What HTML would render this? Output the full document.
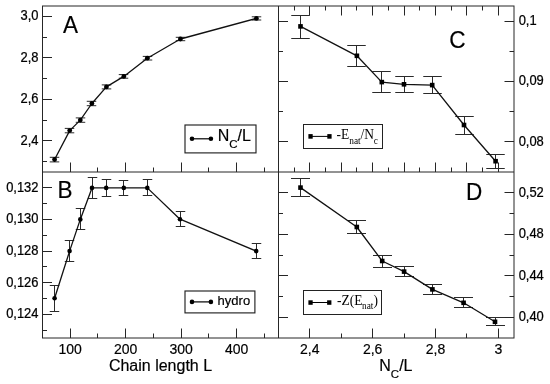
<!DOCTYPE html>
<html><head><meta charset="utf-8"><style>
html,body{margin:0;padding:0;background:#fff;}
body{width:550px;height:384px;overflow:hidden;}
svg{display:block;filter:grayscale(1);}
text{fill:#000;stroke:#000;stroke-width:0.18px;}
text[font-family="Liberation Serif"]{stroke-width:0;}
</style></head><body>
<svg width="550" height="384" viewBox="0 0 550 384">
<rect width="550" height="384" fill="#fff"/>
<rect x="42.5" y="6.0" width="471.50" height="332.00" fill="none" stroke="#262626" stroke-width="1.0"/>
<line x1="278.50" y1="6.00" x2="278.50" y2="338.00" stroke="#262626" stroke-width="1.0"/>
<line x1="42.50" y1="172.00" x2="514.00" y2="172.00" stroke="#262626" stroke-width="1.0"/>
<line x1="42.50" y1="16.50" x2="52.00" y2="16.50" stroke="#262626" stroke-width="1.0"/>
<text transform="translate(38.5,20.37) scale(0.93,1)" font-size="13.9" style="stroke-width:0.25px" text-anchor="end" font-family="Liberation Sans">3,0</text>
<line x1="42.50" y1="37.50" x2="47.00" y2="37.50" stroke="#262626" stroke-width="1.0"/>
<line x1="42.50" y1="57.50" x2="52.00" y2="57.50" stroke="#262626" stroke-width="1.0"/>
<text transform="translate(38.5,61.88) scale(0.93,1)" font-size="13.9" style="stroke-width:0.25px" text-anchor="end" font-family="Liberation Sans">2,8</text>
<line x1="42.50" y1="78.50" x2="47.00" y2="78.50" stroke="#262626" stroke-width="1.0"/>
<line x1="42.50" y1="99.50" x2="52.00" y2="99.50" stroke="#262626" stroke-width="1.0"/>
<text transform="translate(38.5,103.37) scale(0.93,1)" font-size="13.9" style="stroke-width:0.25px" text-anchor="end" font-family="Liberation Sans">2,6</text>
<line x1="42.50" y1="120.50" x2="47.00" y2="120.50" stroke="#262626" stroke-width="1.0"/>
<line x1="42.50" y1="140.50" x2="52.00" y2="140.50" stroke="#262626" stroke-width="1.0"/>
<text transform="translate(38.5,144.87) scale(0.93,1)" font-size="13.9" style="stroke-width:0.25px" text-anchor="end" font-family="Liberation Sans">2,4</text>
<line x1="42.50" y1="161.50" x2="47.00" y2="161.50" stroke="#262626" stroke-width="1.0"/>
<line x1="70.50" y1="172.00" x2="70.50" y2="162.50" stroke="#262626" stroke-width="1.0"/>
<line x1="97.50" y1="172.00" x2="97.50" y2="167.50" stroke="#262626" stroke-width="1.0"/>
<line x1="125.50" y1="172.00" x2="125.50" y2="162.50" stroke="#262626" stroke-width="1.0"/>
<line x1="153.50" y1="172.00" x2="153.50" y2="167.50" stroke="#262626" stroke-width="1.0"/>
<line x1="181.50" y1="172.00" x2="181.50" y2="162.50" stroke="#262626" stroke-width="1.0"/>
<line x1="208.50" y1="172.00" x2="208.50" y2="167.50" stroke="#262626" stroke-width="1.0"/>
<line x1="236.50" y1="172.00" x2="236.50" y2="162.50" stroke="#262626" stroke-width="1.0"/>
<line x1="264.50" y1="172.00" x2="264.50" y2="167.50" stroke="#262626" stroke-width="1.0"/>
<line x1="42.50" y1="187.50" x2="52.00" y2="187.50" stroke="#262626" stroke-width="1.0"/>
<text transform="translate(38.5,191.81) scale(0.93,1)" font-size="13.9" style="stroke-width:0.25px" text-anchor="end" font-family="Liberation Sans">0,132</text>
<line x1="42.50" y1="203.50" x2="47.00" y2="203.50" stroke="#262626" stroke-width="1.0"/>
<line x1="42.50" y1="219.50" x2="52.00" y2="219.50" stroke="#262626" stroke-width="1.0"/>
<text transform="translate(38.5,223.43) scale(0.93,1)" font-size="13.9" style="stroke-width:0.25px" text-anchor="end" font-family="Liberation Sans">0,130</text>
<line x1="42.50" y1="235.50" x2="47.00" y2="235.50" stroke="#262626" stroke-width="1.0"/>
<line x1="42.50" y1="251.50" x2="52.00" y2="251.50" stroke="#262626" stroke-width="1.0"/>
<text transform="translate(38.5,255.05) scale(0.93,1)" font-size="13.9" style="stroke-width:0.25px" text-anchor="end" font-family="Liberation Sans">0,128</text>
<line x1="42.50" y1="266.50" x2="47.00" y2="266.50" stroke="#262626" stroke-width="1.0"/>
<line x1="42.50" y1="282.50" x2="52.00" y2="282.50" stroke="#262626" stroke-width="1.0"/>
<text transform="translate(38.5,286.67) scale(0.93,1)" font-size="13.9" style="stroke-width:0.25px" text-anchor="end" font-family="Liberation Sans">0,126</text>
<line x1="42.50" y1="298.50" x2="47.00" y2="298.50" stroke="#262626" stroke-width="1.0"/>
<line x1="42.50" y1="314.50" x2="52.00" y2="314.50" stroke="#262626" stroke-width="1.0"/>
<text transform="translate(38.5,318.29) scale(0.93,1)" font-size="13.9" style="stroke-width:0.25px" text-anchor="end" font-family="Liberation Sans">0,124</text>
<line x1="42.50" y1="330.50" x2="47.00" y2="330.50" stroke="#262626" stroke-width="1.0"/>
<line x1="70.50" y1="338.00" x2="70.50" y2="328.50" stroke="#262626" stroke-width="1.0"/>
<text x="70.24" y="353.60" font-size="14" text-anchor="middle" font-family="Liberation Sans" >100</text>
<line x1="97.50" y1="338.00" x2="97.50" y2="333.50" stroke="#262626" stroke-width="1.0"/>
<line x1="125.50" y1="338.00" x2="125.50" y2="328.50" stroke="#262626" stroke-width="1.0"/>
<text x="125.72" y="353.60" font-size="14" text-anchor="middle" font-family="Liberation Sans" >200</text>
<line x1="153.50" y1="338.00" x2="153.50" y2="333.50" stroke="#262626" stroke-width="1.0"/>
<line x1="181.50" y1="338.00" x2="181.50" y2="328.50" stroke="#262626" stroke-width="1.0"/>
<text x="181.21" y="353.60" font-size="14" text-anchor="middle" font-family="Liberation Sans" >300</text>
<line x1="208.50" y1="338.00" x2="208.50" y2="333.50" stroke="#262626" stroke-width="1.0"/>
<line x1="236.50" y1="338.00" x2="236.50" y2="328.50" stroke="#262626" stroke-width="1.0"/>
<text x="236.69" y="353.60" font-size="14" text-anchor="middle" font-family="Liberation Sans" >400</text>
<line x1="264.50" y1="338.00" x2="264.50" y2="333.50" stroke="#262626" stroke-width="1.0"/>
<line x1="294.50" y1="6.00" x2="294.50" y2="10.50" stroke="#262626" stroke-width="1.0"/>
<line x1="294.50" y1="172.00" x2="294.50" y2="167.50" stroke="#262626" stroke-width="1.0"/>
<line x1="309.50" y1="6.00" x2="309.50" y2="15.50" stroke="#262626" stroke-width="1.0"/>
<line x1="309.50" y1="172.00" x2="309.50" y2="162.50" stroke="#262626" stroke-width="1.0"/>
<line x1="325.50" y1="6.00" x2="325.50" y2="10.50" stroke="#262626" stroke-width="1.0"/>
<line x1="325.50" y1="172.00" x2="325.50" y2="167.50" stroke="#262626" stroke-width="1.0"/>
<line x1="341.50" y1="6.00" x2="341.50" y2="15.50" stroke="#262626" stroke-width="1.0"/>
<line x1="341.50" y1="172.00" x2="341.50" y2="162.50" stroke="#262626" stroke-width="1.0"/>
<line x1="356.50" y1="6.00" x2="356.50" y2="10.50" stroke="#262626" stroke-width="1.0"/>
<line x1="356.50" y1="172.00" x2="356.50" y2="167.50" stroke="#262626" stroke-width="1.0"/>
<line x1="372.50" y1="6.00" x2="372.50" y2="15.50" stroke="#262626" stroke-width="1.0"/>
<line x1="372.50" y1="172.00" x2="372.50" y2="162.50" stroke="#262626" stroke-width="1.0"/>
<line x1="388.50" y1="6.00" x2="388.50" y2="10.50" stroke="#262626" stroke-width="1.0"/>
<line x1="388.50" y1="172.00" x2="388.50" y2="167.50" stroke="#262626" stroke-width="1.0"/>
<line x1="404.50" y1="6.00" x2="404.50" y2="15.50" stroke="#262626" stroke-width="1.0"/>
<line x1="404.50" y1="172.00" x2="404.50" y2="162.50" stroke="#262626" stroke-width="1.0"/>
<line x1="419.50" y1="6.00" x2="419.50" y2="10.50" stroke="#262626" stroke-width="1.0"/>
<line x1="419.50" y1="172.00" x2="419.50" y2="167.50" stroke="#262626" stroke-width="1.0"/>
<line x1="435.50" y1="6.00" x2="435.50" y2="15.50" stroke="#262626" stroke-width="1.0"/>
<line x1="435.50" y1="172.00" x2="435.50" y2="162.50" stroke="#262626" stroke-width="1.0"/>
<line x1="451.50" y1="6.00" x2="451.50" y2="10.50" stroke="#262626" stroke-width="1.0"/>
<line x1="451.50" y1="172.00" x2="451.50" y2="167.50" stroke="#262626" stroke-width="1.0"/>
<line x1="466.50" y1="6.00" x2="466.50" y2="15.50" stroke="#262626" stroke-width="1.0"/>
<line x1="466.50" y1="172.00" x2="466.50" y2="162.50" stroke="#262626" stroke-width="1.0"/>
<line x1="482.50" y1="6.00" x2="482.50" y2="10.50" stroke="#262626" stroke-width="1.0"/>
<line x1="482.50" y1="172.00" x2="482.50" y2="167.50" stroke="#262626" stroke-width="1.0"/>
<line x1="498.50" y1="6.00" x2="498.50" y2="15.50" stroke="#262626" stroke-width="1.0"/>
<line x1="498.50" y1="172.00" x2="498.50" y2="162.50" stroke="#262626" stroke-width="1.0"/>
<line x1="278.50" y1="21.50" x2="288.00" y2="21.50" stroke="#262626" stroke-width="1.0"/>
<line x1="514.00" y1="21.50" x2="504.50" y2="21.50" stroke="#262626" stroke-width="1.0"/>
<text transform="translate(518.65,25.09) scale(0.93,1)" font-size="13.9" style="stroke-width:0.25px" text-anchor="start" font-family="Liberation Sans">0,1</text>
<line x1="278.50" y1="51.50" x2="283.00" y2="51.50" stroke="#262626" stroke-width="1.0"/>
<line x1="514.00" y1="51.50" x2="509.50" y2="51.50" stroke="#262626" stroke-width="1.0"/>
<line x1="278.50" y1="81.50" x2="288.00" y2="81.50" stroke="#262626" stroke-width="1.0"/>
<line x1="514.00" y1="81.50" x2="504.50" y2="81.50" stroke="#262626" stroke-width="1.0"/>
<text transform="translate(518.65,85.45) scale(0.93,1)" font-size="13.9" style="stroke-width:0.25px" text-anchor="start" font-family="Liberation Sans">0,09</text>
<line x1="278.50" y1="111.50" x2="283.00" y2="111.50" stroke="#262626" stroke-width="1.0"/>
<line x1="514.00" y1="111.50" x2="509.50" y2="111.50" stroke="#262626" stroke-width="1.0"/>
<line x1="278.50" y1="141.50" x2="288.00" y2="141.50" stroke="#262626" stroke-width="1.0"/>
<line x1="514.00" y1="141.50" x2="504.50" y2="141.50" stroke="#262626" stroke-width="1.0"/>
<text transform="translate(518.65,145.82) scale(0.93,1)" font-size="13.9" style="stroke-width:0.25px" text-anchor="start" font-family="Liberation Sans">0,08</text>
<line x1="278.50" y1="192.50" x2="288.00" y2="192.50" stroke="#262626" stroke-width="1.0"/>
<line x1="514.00" y1="192.50" x2="504.50" y2="192.50" stroke="#262626" stroke-width="1.0"/>
<text transform="translate(518.65,196.75) scale(0.93,1)" font-size="13.9" style="stroke-width:0.25px" text-anchor="start" font-family="Liberation Sans">0,52</text>
<line x1="278.50" y1="213.50" x2="283.00" y2="213.50" stroke="#262626" stroke-width="1.0"/>
<line x1="514.00" y1="213.50" x2="509.50" y2="213.50" stroke="#262626" stroke-width="1.0"/>
<line x1="278.50" y1="234.50" x2="288.00" y2="234.50" stroke="#262626" stroke-width="1.0"/>
<line x1="514.00" y1="234.50" x2="504.50" y2="234.50" stroke="#262626" stroke-width="1.0"/>
<text transform="translate(518.65,238.25) scale(0.93,1)" font-size="13.9" style="stroke-width:0.25px" text-anchor="start" font-family="Liberation Sans">0,48</text>
<line x1="278.50" y1="255.50" x2="283.00" y2="255.50" stroke="#262626" stroke-width="1.0"/>
<line x1="514.00" y1="255.50" x2="509.50" y2="255.50" stroke="#262626" stroke-width="1.0"/>
<line x1="278.50" y1="275.50" x2="288.00" y2="275.50" stroke="#262626" stroke-width="1.0"/>
<line x1="514.00" y1="275.50" x2="504.50" y2="275.50" stroke="#262626" stroke-width="1.0"/>
<text transform="translate(518.65,279.75) scale(0.93,1)" font-size="13.9" style="stroke-width:0.25px" text-anchor="start" font-family="Liberation Sans">0,44</text>
<line x1="278.50" y1="296.50" x2="283.00" y2="296.50" stroke="#262626" stroke-width="1.0"/>
<line x1="514.00" y1="296.50" x2="509.50" y2="296.50" stroke="#262626" stroke-width="1.0"/>
<line x1="278.50" y1="317.50" x2="288.00" y2="317.50" stroke="#262626" stroke-width="1.0"/>
<line x1="514.00" y1="317.50" x2="504.50" y2="317.50" stroke="#262626" stroke-width="1.0"/>
<text transform="translate(518.65,321.25) scale(0.93,1)" font-size="13.9" style="stroke-width:0.25px" text-anchor="start" font-family="Liberation Sans">0,40</text>
<line x1="309.50" y1="338.00" x2="309.50" y2="328.50" stroke="#262626" stroke-width="1.0"/>
<text x="309.74" y="353.60" font-size="14" text-anchor="middle" font-family="Liberation Sans" >2,4</text>
<line x1="341.50" y1="338.00" x2="341.50" y2="333.50" stroke="#262626" stroke-width="1.0"/>
<line x1="372.50" y1="338.00" x2="372.50" y2="328.50" stroke="#262626" stroke-width="1.0"/>
<text x="372.62" y="353.60" font-size="14" text-anchor="middle" font-family="Liberation Sans" >2,6</text>
<line x1="404.50" y1="338.00" x2="404.50" y2="333.50" stroke="#262626" stroke-width="1.0"/>
<line x1="435.50" y1="338.00" x2="435.50" y2="328.50" stroke="#262626" stroke-width="1.0"/>
<text x="435.50" y="353.60" font-size="14" text-anchor="middle" font-family="Liberation Sans" >2,8</text>
<line x1="466.50" y1="338.00" x2="466.50" y2="333.50" stroke="#262626" stroke-width="1.0"/>
<line x1="498.50" y1="338.00" x2="498.50" y2="328.50" stroke="#262626" stroke-width="1.0"/>
<text x="498.38" y="353.60" font-size="14" text-anchor="middle" font-family="Liberation Sans" >3</text>
<text transform="translate(62.9,33.4) scale(0.92,1)" font-size="24.5" font-family="Liberation Sans">A</text>
<text transform="translate(57.6,198.0) scale(0.92,1)" font-size="24.5" font-family="Liberation Sans">B</text>
<text transform="translate(449.2,47.7) scale(0.92,1)" font-size="24.5" font-family="Liberation Sans">C</text>
<text transform="translate(466.1,199.9) scale(0.92,1)" font-size="24.5" font-family="Liberation Sans">D</text>
<text x="160.50" y="370.50" font-size="16" text-anchor="middle" font-family="Liberation Sans" >Chain length L</text>
<text x="379.3" y="371.4" font-family="Liberation Sans" font-size="16">N<tspan font-size="11.5" dy="6.5">C</tspan><tspan dy="-6.5">/L</tspan></text>
<line x1="54.50" y1="157.30" x2="54.50" y2="161.90" stroke="#2a2a2a" stroke-width="1.0"/>
<line x1="49.75" y1="157.30" x2="59.25" y2="157.30" stroke="#2a2a2a" stroke-width="1.0"/>
<line x1="49.75" y1="161.90" x2="59.25" y2="161.90" stroke="#2a2a2a" stroke-width="1.0"/>
<line x1="69.50" y1="128.40" x2="69.50" y2="132.80" stroke="#2a2a2a" stroke-width="1.0"/>
<line x1="64.75" y1="128.40" x2="74.25" y2="128.40" stroke="#2a2a2a" stroke-width="1.0"/>
<line x1="64.75" y1="132.80" x2="74.25" y2="132.80" stroke="#2a2a2a" stroke-width="1.0"/>
<line x1="80.50" y1="117.90" x2="80.50" y2="122.30" stroke="#2a2a2a" stroke-width="1.0"/>
<line x1="75.75" y1="117.90" x2="85.25" y2="117.90" stroke="#2a2a2a" stroke-width="1.0"/>
<line x1="75.75" y1="122.30" x2="85.25" y2="122.30" stroke="#2a2a2a" stroke-width="1.0"/>
<line x1="91.50" y1="101.30" x2="91.50" y2="105.70" stroke="#2a2a2a" stroke-width="1.0"/>
<line x1="86.75" y1="101.30" x2="96.25" y2="101.30" stroke="#2a2a2a" stroke-width="1.0"/>
<line x1="86.75" y1="105.70" x2="96.25" y2="105.70" stroke="#2a2a2a" stroke-width="1.0"/>
<line x1="106.50" y1="84.90" x2="106.50" y2="88.90" stroke="#2a2a2a" stroke-width="1.0"/>
<line x1="101.75" y1="84.90" x2="111.25" y2="84.90" stroke="#2a2a2a" stroke-width="1.0"/>
<line x1="101.75" y1="88.90" x2="111.25" y2="88.90" stroke="#2a2a2a" stroke-width="1.0"/>
<line x1="123.50" y1="74.60" x2="123.50" y2="78.20" stroke="#2a2a2a" stroke-width="1.0"/>
<line x1="118.75" y1="74.60" x2="128.25" y2="74.60" stroke="#2a2a2a" stroke-width="1.0"/>
<line x1="118.75" y1="78.20" x2="128.25" y2="78.20" stroke="#2a2a2a" stroke-width="1.0"/>
<line x1="147.50" y1="56.40" x2="147.50" y2="60.00" stroke="#2a2a2a" stroke-width="1.0"/>
<line x1="142.75" y1="56.40" x2="152.25" y2="56.40" stroke="#2a2a2a" stroke-width="1.0"/>
<line x1="142.75" y1="60.00" x2="152.25" y2="60.00" stroke="#2a2a2a" stroke-width="1.0"/>
<line x1="180.50" y1="37.30" x2="180.50" y2="40.70" stroke="#2a2a2a" stroke-width="1.0"/>
<line x1="175.75" y1="37.30" x2="185.25" y2="37.30" stroke="#2a2a2a" stroke-width="1.0"/>
<line x1="175.75" y1="40.70" x2="185.25" y2="40.70" stroke="#2a2a2a" stroke-width="1.0"/>
<line x1="256.50" y1="16.80" x2="256.50" y2="20.00" stroke="#2a2a2a" stroke-width="1.0"/>
<line x1="251.75" y1="16.80" x2="261.25" y2="16.80" stroke="#2a2a2a" stroke-width="1.0"/>
<line x1="251.75" y1="20.00" x2="261.25" y2="20.00" stroke="#2a2a2a" stroke-width="1.0"/>
<path d="M54.60,159.50 L69.70,130.60 L80.30,120.10 L91.90,103.50 L106.40,86.90 L123.80,76.40 L147.30,58.20 L180.40,39.00 L256.40,18.40" fill="none" stroke="#111" stroke-width="1.3" stroke-linejoin="round"/>
<circle cx="54.60" cy="159.50" r="2.4" fill="#000"/>
<circle cx="69.70" cy="130.60" r="2.4" fill="#000"/>
<circle cx="80.30" cy="120.10" r="2.4" fill="#000"/>
<circle cx="91.90" cy="103.50" r="2.4" fill="#000"/>
<circle cx="106.40" cy="86.90" r="2.4" fill="#000"/>
<circle cx="123.80" cy="76.40" r="2.4" fill="#000"/>
<circle cx="147.30" cy="58.20" r="2.4" fill="#000"/>
<circle cx="180.40" cy="39.00" r="2.4" fill="#000"/>
<circle cx="256.40" cy="18.40" r="2.4" fill="#000"/>
<line x1="54.50" y1="285.50" x2="54.50" y2="311.50" stroke="#2a2a2a" stroke-width="1.0"/>
<line x1="49.75" y1="285.50" x2="59.25" y2="285.50" stroke="#2a2a2a" stroke-width="1.0"/>
<line x1="49.75" y1="311.50" x2="59.25" y2="311.50" stroke="#2a2a2a" stroke-width="1.0"/>
<line x1="69.50" y1="240.50" x2="69.50" y2="261.50" stroke="#2a2a2a" stroke-width="1.0"/>
<line x1="64.75" y1="240.50" x2="74.25" y2="240.50" stroke="#2a2a2a" stroke-width="1.0"/>
<line x1="64.75" y1="261.50" x2="74.25" y2="261.50" stroke="#2a2a2a" stroke-width="1.0"/>
<line x1="80.50" y1="208.50" x2="80.50" y2="229.50" stroke="#2a2a2a" stroke-width="1.0"/>
<line x1="75.75" y1="208.50" x2="85.25" y2="208.50" stroke="#2a2a2a" stroke-width="1.0"/>
<line x1="75.75" y1="229.50" x2="85.25" y2="229.50" stroke="#2a2a2a" stroke-width="1.0"/>
<line x1="92.50" y1="177.50" x2="92.50" y2="198.50" stroke="#2a2a2a" stroke-width="1.0"/>
<line x1="87.75" y1="177.50" x2="97.25" y2="177.50" stroke="#2a2a2a" stroke-width="1.0"/>
<line x1="87.75" y1="198.50" x2="97.25" y2="198.50" stroke="#2a2a2a" stroke-width="1.0"/>
<line x1="106.50" y1="179.50" x2="106.50" y2="196.50" stroke="#2a2a2a" stroke-width="1.0"/>
<line x1="101.75" y1="179.50" x2="111.25" y2="179.50" stroke="#2a2a2a" stroke-width="1.0"/>
<line x1="101.75" y1="196.50" x2="111.25" y2="196.50" stroke="#2a2a2a" stroke-width="1.0"/>
<line x1="123.50" y1="180.50" x2="123.50" y2="195.50" stroke="#2a2a2a" stroke-width="1.0"/>
<line x1="118.75" y1="180.50" x2="128.25" y2="180.50" stroke="#2a2a2a" stroke-width="1.0"/>
<line x1="118.75" y1="195.50" x2="128.25" y2="195.50" stroke="#2a2a2a" stroke-width="1.0"/>
<line x1="147.50" y1="179.50" x2="147.50" y2="195.50" stroke="#2a2a2a" stroke-width="1.0"/>
<line x1="142.75" y1="179.50" x2="152.25" y2="179.50" stroke="#2a2a2a" stroke-width="1.0"/>
<line x1="142.75" y1="195.50" x2="152.25" y2="195.50" stroke="#2a2a2a" stroke-width="1.0"/>
<line x1="180.50" y1="211.50" x2="180.50" y2="226.50" stroke="#2a2a2a" stroke-width="1.0"/>
<line x1="175.75" y1="211.50" x2="185.25" y2="211.50" stroke="#2a2a2a" stroke-width="1.0"/>
<line x1="175.75" y1="226.50" x2="185.25" y2="226.50" stroke="#2a2a2a" stroke-width="1.0"/>
<line x1="256.50" y1="243.50" x2="256.50" y2="258.50" stroke="#2a2a2a" stroke-width="1.0"/>
<line x1="251.75" y1="243.50" x2="261.25" y2="243.50" stroke="#2a2a2a" stroke-width="1.0"/>
<line x1="251.75" y1="258.50" x2="261.25" y2="258.50" stroke="#2a2a2a" stroke-width="1.0"/>
<path d="M54.60,298.30 L69.60,251.10 L80.30,219.40 L92.00,187.90 L106.20,187.90 L123.80,187.90 L147.30,187.90 L180.00,219.20 L256.20,251.10" fill="none" stroke="#111" stroke-width="1.3" stroke-linejoin="round"/>
<circle cx="54.60" cy="298.30" r="2.3" fill="#000"/>
<circle cx="69.60" cy="251.10" r="2.3" fill="#000"/>
<circle cx="80.30" cy="219.40" r="2.3" fill="#000"/>
<circle cx="92.00" cy="187.90" r="2.3" fill="#000"/>
<circle cx="106.20" cy="187.90" r="2.3" fill="#000"/>
<circle cx="123.80" cy="187.90" r="2.3" fill="#000"/>
<circle cx="147.30" cy="187.90" r="2.3" fill="#000"/>
<circle cx="180.00" cy="219.20" r="2.3" fill="#000"/>
<circle cx="256.20" cy="251.10" r="2.3" fill="#000"/>
<line x1="300.50" y1="15.50" x2="300.50" y2="38.50" stroke="#2a2a2a" stroke-width="1.0"/>
<line x1="291.25" y1="15.50" x2="309.75" y2="15.50" stroke="#2a2a2a" stroke-width="1.0"/>
<line x1="291.25" y1="38.50" x2="309.75" y2="38.50" stroke="#2a2a2a" stroke-width="1.0"/>
<line x1="356.50" y1="45.50" x2="356.50" y2="66.50" stroke="#2a2a2a" stroke-width="1.0"/>
<line x1="347.25" y1="45.50" x2="365.75" y2="45.50" stroke="#2a2a2a" stroke-width="1.0"/>
<line x1="347.25" y1="66.50" x2="365.75" y2="66.50" stroke="#2a2a2a" stroke-width="1.0"/>
<line x1="381.50" y1="71.50" x2="381.50" y2="92.50" stroke="#2a2a2a" stroke-width="1.0"/>
<line x1="372.25" y1="71.50" x2="390.75" y2="71.50" stroke="#2a2a2a" stroke-width="1.0"/>
<line x1="372.25" y1="92.50" x2="390.75" y2="92.50" stroke="#2a2a2a" stroke-width="1.0"/>
<line x1="404.50" y1="76.50" x2="404.50" y2="92.50" stroke="#2a2a2a" stroke-width="1.0"/>
<line x1="395.25" y1="76.50" x2="413.75" y2="76.50" stroke="#2a2a2a" stroke-width="1.0"/>
<line x1="395.25" y1="92.50" x2="413.75" y2="92.50" stroke="#2a2a2a" stroke-width="1.0"/>
<line x1="432.50" y1="76.50" x2="432.50" y2="93.50" stroke="#2a2a2a" stroke-width="1.0"/>
<line x1="423.25" y1="76.50" x2="441.75" y2="76.50" stroke="#2a2a2a" stroke-width="1.0"/>
<line x1="423.25" y1="93.50" x2="441.75" y2="93.50" stroke="#2a2a2a" stroke-width="1.0"/>
<line x1="464.50" y1="116.50" x2="464.50" y2="134.50" stroke="#2a2a2a" stroke-width="1.0"/>
<line x1="455.25" y1="116.50" x2="473.75" y2="116.50" stroke="#2a2a2a" stroke-width="1.0"/>
<line x1="455.25" y1="134.50" x2="473.75" y2="134.50" stroke="#2a2a2a" stroke-width="1.0"/>
<line x1="495.50" y1="154.50" x2="495.50" y2="168.50" stroke="#2a2a2a" stroke-width="1.0"/>
<line x1="486.25" y1="154.50" x2="504.75" y2="154.50" stroke="#2a2a2a" stroke-width="1.0"/>
<line x1="486.25" y1="168.50" x2="504.75" y2="168.50" stroke="#2a2a2a" stroke-width="1.0"/>
<path d="M300.50,26.40 L356.90,55.80 L381.80,82.10 L404.00,84.30 L432.20,85.10 L464.00,125.00 L495.60,161.20" fill="none" stroke="#111" stroke-width="1.3" stroke-linejoin="round"/>
<rect x="298.20" y="24.10" width="4.6" height="4.6" fill="#000"/>
<rect x="354.60" y="53.50" width="4.6" height="4.6" fill="#000"/>
<rect x="379.50" y="79.80" width="4.6" height="4.6" fill="#000"/>
<rect x="401.70" y="82.00" width="4.6" height="4.6" fill="#000"/>
<rect x="429.90" y="82.80" width="4.6" height="4.6" fill="#000"/>
<rect x="461.70" y="122.70" width="4.6" height="4.6" fill="#000"/>
<rect x="493.30" y="158.90" width="4.6" height="4.6" fill="#000"/>
<line x1="300.50" y1="178.50" x2="300.50" y2="196.50" stroke="#2a2a2a" stroke-width="1.0"/>
<line x1="291.00" y1="178.50" x2="310.00" y2="178.50" stroke="#2a2a2a" stroke-width="1.0"/>
<line x1="291.00" y1="196.50" x2="310.00" y2="196.50" stroke="#2a2a2a" stroke-width="1.0"/>
<line x1="356.50" y1="220.50" x2="356.50" y2="233.50" stroke="#2a2a2a" stroke-width="1.0"/>
<line x1="347.00" y1="220.50" x2="366.00" y2="220.50" stroke="#2a2a2a" stroke-width="1.0"/>
<line x1="347.00" y1="233.50" x2="366.00" y2="233.50" stroke="#2a2a2a" stroke-width="1.0"/>
<line x1="382.50" y1="255.50" x2="382.50" y2="267.50" stroke="#2a2a2a" stroke-width="1.0"/>
<line x1="373.00" y1="255.50" x2="392.00" y2="255.50" stroke="#2a2a2a" stroke-width="1.0"/>
<line x1="373.00" y1="267.50" x2="392.00" y2="267.50" stroke="#2a2a2a" stroke-width="1.0"/>
<line x1="404.50" y1="266.50" x2="404.50" y2="276.50" stroke="#2a2a2a" stroke-width="1.0"/>
<line x1="395.00" y1="266.50" x2="414.00" y2="266.50" stroke="#2a2a2a" stroke-width="1.0"/>
<line x1="395.00" y1="276.50" x2="414.00" y2="276.50" stroke="#2a2a2a" stroke-width="1.0"/>
<line x1="432.50" y1="284.50" x2="432.50" y2="294.50" stroke="#2a2a2a" stroke-width="1.0"/>
<line x1="423.00" y1="284.50" x2="442.00" y2="284.50" stroke="#2a2a2a" stroke-width="1.0"/>
<line x1="423.00" y1="294.50" x2="442.00" y2="294.50" stroke="#2a2a2a" stroke-width="1.0"/>
<line x1="463.50" y1="297.50" x2="463.50" y2="307.50" stroke="#2a2a2a" stroke-width="1.0"/>
<line x1="454.00" y1="297.50" x2="473.00" y2="297.50" stroke="#2a2a2a" stroke-width="1.0"/>
<line x1="454.00" y1="307.50" x2="473.00" y2="307.50" stroke="#2a2a2a" stroke-width="1.0"/>
<line x1="495.50" y1="317.50" x2="495.50" y2="325.50" stroke="#2a2a2a" stroke-width="1.0"/>
<line x1="486.00" y1="317.50" x2="505.00" y2="317.50" stroke="#2a2a2a" stroke-width="1.0"/>
<line x1="486.00" y1="325.50" x2="505.00" y2="325.50" stroke="#2a2a2a" stroke-width="1.0"/>
<path d="M300.50,187.60 L356.80,227.00 L382.20,261.00 L404.10,271.60 L432.40,289.40 L463.60,302.80 L495.00,321.80" fill="none" stroke="#111" stroke-width="1.3" stroke-linejoin="round"/>
<rect x="298.20" y="185.30" width="4.6" height="4.6" fill="#000"/>
<rect x="354.50" y="224.70" width="4.6" height="4.6" fill="#000"/>
<rect x="379.90" y="258.70" width="4.6" height="4.6" fill="#000"/>
<rect x="401.80" y="269.30" width="4.6" height="4.6" fill="#000"/>
<rect x="430.10" y="287.10" width="4.6" height="4.6" fill="#000"/>
<rect x="461.30" y="300.50" width="4.6" height="4.6" fill="#000"/>
<rect x="492.70" y="319.50" width="4.6" height="4.6" fill="#000"/>
<rect x="185.0" y="125.0" width="71.00" height="27.90" fill="#fff" stroke="#222" stroke-width="1.15"/>
<line x1="192.00" y1="138.80" x2="210.90" y2="138.80" stroke="#000" stroke-width="1.2"/>
<circle cx="192.0" cy="138.8" r="2.3"/><circle cx="210.9" cy="138.8" r="2.3"/>
<text x="217.7" y="141.4" font-family="Liberation Sans" font-size="16">N<tspan font-size="11.5" dy="6.5">C</tspan><tspan dy="-6.5">/L</tspan></text>
<rect x="185.0" y="291.0" width="69.90" height="21.90" fill="#fff" stroke="#222" stroke-width="1.15"/>
<line x1="192.00" y1="301.90" x2="210.90" y2="301.90" stroke="#000" stroke-width="1.2"/>
<circle cx="192.0" cy="301.9" r="2.3"/><circle cx="210.9" cy="301.9" r="2.3"/>
<text x="217.60" y="304.90" font-size="13" text-anchor="start" font-family="Liberation Sans" >hydro</text>
<rect x="303.5" y="124.5" width="79.00" height="24.00" fill="#fff" stroke="#222" stroke-width="1.0"/>
<line x1="310.50" y1="136.40" x2="329.50" y2="136.40" stroke="#000" stroke-width="1.0"/>
<rect x="308.4" y="134.1" width="4.3" height="4.6"/><rect x="327.3" y="134.1" width="4.3" height="4.6"/>
<text transform="translate(336.6,139.1) scale(0.93,1)" font-size="14.5" font-family="Liberation Serif">-E</text>
<text transform="translate(349.3,143.5) scale(0.85,1)" font-size="11" font-family="Liberation Serif">nat</text>
<text transform="translate(360.4,139.1) scale(0.93,1)" font-size="14.5" font-family="Liberation Serif">/N</text>
<text transform="translate(373.7,143.5) scale(0.85,1)" font-size="11" font-family="Liberation Serif">c</text>
<rect x="303.5" y="290.5" width="78.00" height="24.00" fill="#fff" stroke="#222" stroke-width="1.0"/>
<line x1="310.50" y1="302.50" x2="329.30" y2="302.50" stroke="#000" stroke-width="1.0"/>
<rect x="308.4" y="300.3" width="4.3" height="4.5"/><rect x="327.1" y="300.3" width="4.3" height="4.5"/>
<text transform="translate(337.0,304.6) scale(0.93,1)" font-size="14.5" font-family="Liberation Serif">-Z(E</text>
<text transform="translate(362.0,309.4) scale(0.85,1)" font-size="11" font-family="Liberation Serif">nat</text>
<text transform="translate(373.6,304.6) scale(0.93,1)" font-size="14.5" font-family="Liberation Serif">)</text>
</svg>
</body></html>
